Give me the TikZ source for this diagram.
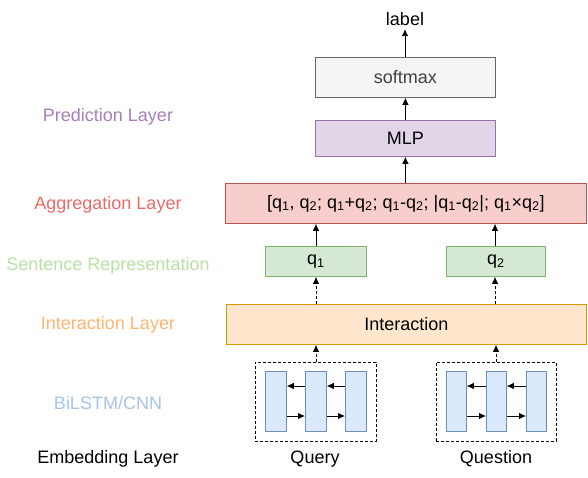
\documentclass[tikz,border=0pt]{standalone}
\usepackage{fontspec}
\setmainfont{Liberation Sans}
\usetikzlibrary{arrows.meta}
\definecolor{grayF}{HTML}{F5F5F5}\definecolor{grayS}{HTML}{666666}
\definecolor{purF}{HTML}{E1D5E7}\definecolor{purS}{HTML}{9673A6}
\definecolor{redF}{HTML}{F8CECC}\definecolor{redS}{HTML}{B85450}
\definecolor{grnF}{HTML}{D5E8D4}\definecolor{grnS}{HTML}{82B366}
\definecolor{orF}{HTML}{FFE6CC}\definecolor{orS}{HTML}{D79B00}
\definecolor{bluF}{HTML}{DAE8FC}\definecolor{bluS}{HTML}{6C8EBF}
\definecolor{labP}{HTML}{A680B8}\definecolor{labA}{HTML}{EA6B66}
\definecolor{labS}{HTML}{B9E0A5}\definecolor{labI}{HTML}{FFB570}
\definecolor{labB}{HTML}{A9C4EB}
\newcommand{\sbs}[1]{\textsubscript{#1}}
\begin{document}
\begin{tikzpicture}[x=1pt,y=-1pt,
  every node/.style={font=\fontsize{18}{20}\selectfont},
  box/.style={draw, line width=0.8pt, inner sep=0pt, anchor=north west},
  arr/.style={-{Latex[length=7pt,width=6.5pt]}, line width=0.8pt},
  darr/.style={arr, dash pattern=on 3pt off 2pt},
  dbox/.style={box, dash pattern=on 3pt off 2pt}]
\useasboundingbox (0,0) rectangle (588,478);
% boxes
\node[box, fill=grayF, draw=grayS, minimum width=180pt, minimum height=40pt] (soft) at (315,57) {};
\node[text=black!75] (softt) at (soft.center) {softmax};
\node[box, fill=purF, draw=purS, minimum width=180pt, minimum height=36pt] (mlp) at (315,120) {};
\node (mlpt) at (mlp.center) {MLP};
\node[box, fill=redF, draw=redS, minimum width=361pt, minimum height=40pt] (agg) at (225,183) {};
\node (aggt) at (agg.center) {[q\sbs{1}, q\sbs{2}; q\sbs{1}+q\sbs{2}; q\sbs{1}-q\sbs{2}; |q\sbs{1}-q\sbs{2}|; q\sbs{1}×q\sbs{2}]};
\node[box, fill=grnF, draw=grnS, minimum width=101pt, minimum height=30pt] (q1) at (265,246) {};
\node (q1t) at (q1.center) {q\sbs{1}};
\node[box, fill=grnF, draw=grnS, minimum width=99pt, minimum height=30pt] (q2) at (446,246) {};
\node (q2t) at (q2.center) {q\sbs{2}};
\node[box, fill=orF, draw=orS, minimum width=360pt, minimum height=40pt] (inter) at (226,304) {};
\node (intert) at (inter.center) {Interaction};
% dashed containers
\node[dbox, minimum width=121pt, minimum height=79pt] (dq) at (255,362) {};
\node[dbox, minimum width=120pt, minimum height=79pt] (dn) at (436,362) {};
% inner rects
\foreach \n/\x in {a/265,b/305,c/345}{
  \node[box, fill=bluF, draw=bluS, minimum width=21pt, minimum height=60pt] (q\n) at (\x,371) {};
}
\foreach \n/\x in {a/446,b/486,c/526}{
  \node[box, fill=bluF, draw=bluS, minimum width=20pt, minimum height=60pt] (n\n) at (\x,371) {};
}
\foreach \p in {q,n}{
  \draw[arr] (\p b.west |- 0,386) -- (\p a.east |- 0,386);
  \draw[arr] (\p c.west |- 0,386) -- (\p b.east |- 0,386);
  \draw[arr] (\p a.east |- 0,416) -- (\p b.west |- 0,416);
  \draw[arr] (\p b.east |- 0,416) -- (\p c.west |- 0,416);
}
\node (query) at (315,459) {Query};
\node (quest) at (496,459) {Question};
% labels
\node[text=labP] (lp) at (108,117) {Prediction Layer};
\node[text=labA] (la) at (108,205) {Aggregation Layer};
\node[text=labS] (ls) at (108,266) {Sentence Representation};
\node[text=labI] (li) at (108,325) {Interaction Layer};
\node[text=labB] (lb) at (108,403) {BiLSTM/CNN};
\node (le) at (108,459) {Embedding Layer};
\node (label) at (405,19) {label};
% connectors
\draw[arr] (soft.north -| label) -- (label.south);
\draw[arr] (mlp.north -| soft) -- (soft.south);
\draw[arr] (agg.north -| mlp) -- (mlp.south);
\draw[arr] (q1.north -| 316,0) -- (agg.south -| 316,0);
\draw[arr] (q2.north -| 495,0) -- (agg.south -| 495,0);
\draw[darr] (inter.north -| 316,0) -- (q1.south -| 316,0);
\draw[darr] (inter.north -| 495,0) -- (q2.south -| 495,0);
\draw[darr] (dq.north -| 316,0) -- (inter.south -| 316,0);
\draw[darr] (dn.north -| 496,0) -- (inter.south -| 496,0);
\end{tikzpicture}
\end{document}
